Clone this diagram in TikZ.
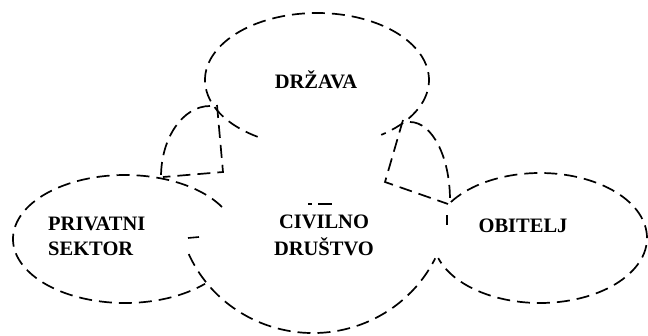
\documentclass[tikz,border=0pt]{standalone}
\usepackage{fontspec}
\setmainfont{Liberation Serif}
\begin{document}
\begin{tikzpicture}[x=1pt,y=1pt,
  outline/.style={draw=black,line width=1.7pt,dash pattern=on 13pt off 7pt},
  label/.style={font=\fontsize{20.5}{24}\selectfont\bfseries,text=black,inner sep=0pt}]
\useasboundingbox[fill=white] (0,0) rectangle (648,-335);
% centres of the outlines
\coordinate (drz) at (317,-80);
\coordinate (prv) at (125,-239);
\coordinate (civ) at (313,-200);
\coordinate (obi) at (540,-238);
\coordinate (lc) at (210,-177);
\coordinate (rc) at (410,-200);
% DRZAVA
\draw[outline] ([shift={(238:112 and 67)}]drz) arc[start angle=238,end angle=-55,x radius=112,y radius=67];
% PRIVATNI SEKTOR
\draw[outline] ([shift={(30:112 and 64)}]prv) arc[start angle=30,end angle=315.6,x radius=112,y radius=64];
% CIVILNO DRUSTVO
\draw[outline] ([shift={(204:136 and 133)}]civ) arc[start angle=204,end angle=334,x radius=136,y radius=133];
% OBITELJ
\draw[outline] ([shift={(146.4:107 and 65)}]obi) arc[start angle=146.4,end angle=-162,x radius=107,y radius=65];
% left joint
\coordinate (l1) at (217,-105);
\coordinate (l2) at (223,-172);
\coordinate (l3) at (163,-177);
\draw[outline] (l1) -- (l2) -- (l3);
\draw[outline] ([shift={(90:49 and 71)}]lc) arc[start angle=90,end angle=180,x radius=49,y radius=71];
% right joint
\coordinate (r1) at (403,-120);
\coordinate (r2) at (385,-182);
\coordinate (r3) at (448,-204);
\draw[outline] (r1) -- (r2) -- (r3);
\draw[outline] ([shift={(90:40 and 78)}]rc) arc[start angle=90,end angle=0,x radius=40,y radius=78];
% small fragments
\coordinate (f1) at (188,-238); \coordinate (f2) at (199,-237);
\draw[line width=1.6pt] (f1) -- (f2);
\coordinate (f3) at (447,-215); \coordinate (f4) at (447,-225);
\draw[line width=1.6pt] (f3) -- (f4);
\coordinate (f5) at (308,-204); \coordinate (f6) at (312,-204);
\coordinate (f7) at (318,-204); \coordinate (f8) at (332,-204);
\draw[line width=1.4pt] (f5) -- (f6) (f7) -- (f8);
% labels
\node[label,anchor=base] (tdrz) at (316,-88) {DRŽAVA};
\node[label,anchor=base west] (tprv1) at (48,-230) {PRIVATNI};
\node[label,anchor=base west] (tprv2) at (48,-255) {SEKTOR};
\node[label,anchor=base] (tciv1) at (324,-228) {CIVILNO};
\node[label,anchor=base] (tciv2) at (324,-255) {DRUŠTVO};
\node[label,anchor=base] (tobi) at (523,-232) {OBITELJ};
\end{tikzpicture}
\end{document}
